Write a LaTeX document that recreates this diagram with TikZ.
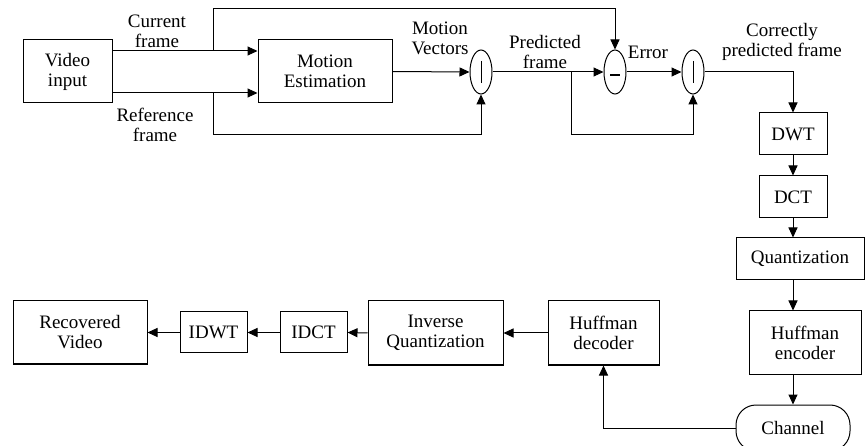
\documentclass[tikz,border=0pt]{standalone}
\usepackage{fontspec}
\setmainfont{Liberation Serif}
\usetikzlibrary{arrows.meta,calc,shapes.geometric}
\begin{document}
\begin{tikzpicture}[x=1pt,y=-1pt,
  font=\fontsize{19}{20}\selectfont,
  every node/.style={align=center,inner sep=0pt},
  box/.style={draw,line width=1pt},
  summer/.style={draw,ellipse,line width=1pt,minimum width=22pt,minimum height=44pt},
  arr/.style={line width=1pt,-{Triangle[length=10pt,width=9pt]}},
  ln/.style={line width=1pt}]
\useasboundingbox (0,0) rectangle (865,446);
% boxes
\node[box,minimum width=89pt,minimum height=63pt] (vin) at (67.5,71.5) {Video\\input};
\node[box,minimum width=134pt,minimum height=63pt] (me) at (325,71.5) {Motion\\Estimation};
\node[summer] (add1) at (481,72) {};
\node[summer] (sub) at (615,72) {};
\node[summer] (add2) at (693,72) {};
\node[box,minimum width=68pt,minimum height=42pt] (dwt) at (793,134) {DWT};
\node[box,minimum width=68pt,minimum height=42pt] (dct) at (793,197) {DCT};
\node[box,minimum width=128pt,minimum height=42pt] (quant) at (800,259) {Quantization};
\node[box,minimum width=112pt,minimum height=63pt] (henc) at (805,342.5) {Huffman\\encoder};
\node[box,rounded corners=20pt,minimum width=114pt,minimum height=46pt] (chan) at (793,428) {Channel};
\node[box,minimum width=111pt,minimum height=64pt] (hdec) at (603.5,333) {Huffman\\decoder};
\node[box,minimum width=135pt,minimum height=64pt] (iq) at (435.5,333) {Inverse\\Quantization};
\node[box,minimum width=67pt,minimum height=41pt] (idct) at (313.5,332.5) {IDCT};
\node[box,minimum width=67pt,minimum height=41pt] (idwt) at (213.5,332.5) {IDWT};
\node[box,minimum width=134pt,minimum height=63pt] (rv) at (80,332.5) {Recovered\\Video};
% signs inside the summers
\draw[ln] ($(add1.center)+(0,-11)$) -- ($(add1.center)+(0,11)$);
\draw[ln] ($(add2.center)+(0,-11)$) -- ($(add2.center)+(0,11)$);
\draw[line width=1.6pt] ($(sub.center)+(-5,3)$) -- ($(sub.center)+(5,3)$);
% junction points
\coordinate (jtop) at (213,51);
\coordinate (jbot) at (213,93);
\coordinate (jpred) at (571,72);
% connectors
\draw[arr] ([yshift=20.5pt]vin.east) -- ([yshift=20.5pt]me.west);
\draw[arr] ([yshift=-21.5pt]vin.east) -- ([yshift=-21.5pt]me.west);
\draw[arr] (jtop) -- (213,9) -| (sub.north);
\draw[arr] (jbot) -- (213,135) -| (add1.south);
\draw[arr] (me.east) -- (add1.west);
\draw[arr] (add1.east) -- (sub.west);
\draw[arr] (jpred) -- (571,135) -| (add2.south);
\draw[arr] (sub.east) -- (add2.west);
\draw[arr] (add2.east) -| (dwt.north);
\draw[arr] (dwt.south) -- (dct.north);
\draw[arr] (dct.south) -- (dct.south |- quant.north);
\draw[arr] (dct.south |- quant.south) -- (dct.south |- henc.north);
\draw[arr] (dct.south |- henc.south) -- (dct.south |- chan.north);
\draw[arr] (chan.west) -| (hdec.south);
\draw[arr] (hdec.west) -- (iq.east);
\draw[arr] (iq.west) -- (idct.east);
\draw[arr] (idct.west) -- (idwt.east);
\draw[arr] (idwt.west) -- (rv.east);
% labels
\node (lcur) at (157,31.5) {Current\\frame};
\node (lref) at (155,125) {Reference\\frame};
\node (lmv) at (440,38) {Motion\\Vectors};
\node (lpf) at (545,52) {Predicted\\frame};
\node (lerr) at (648,52) {Error};
\node (lcpf) at (782,41.5) {Correctly\\predicted frame};
\end{tikzpicture}
\end{document}
